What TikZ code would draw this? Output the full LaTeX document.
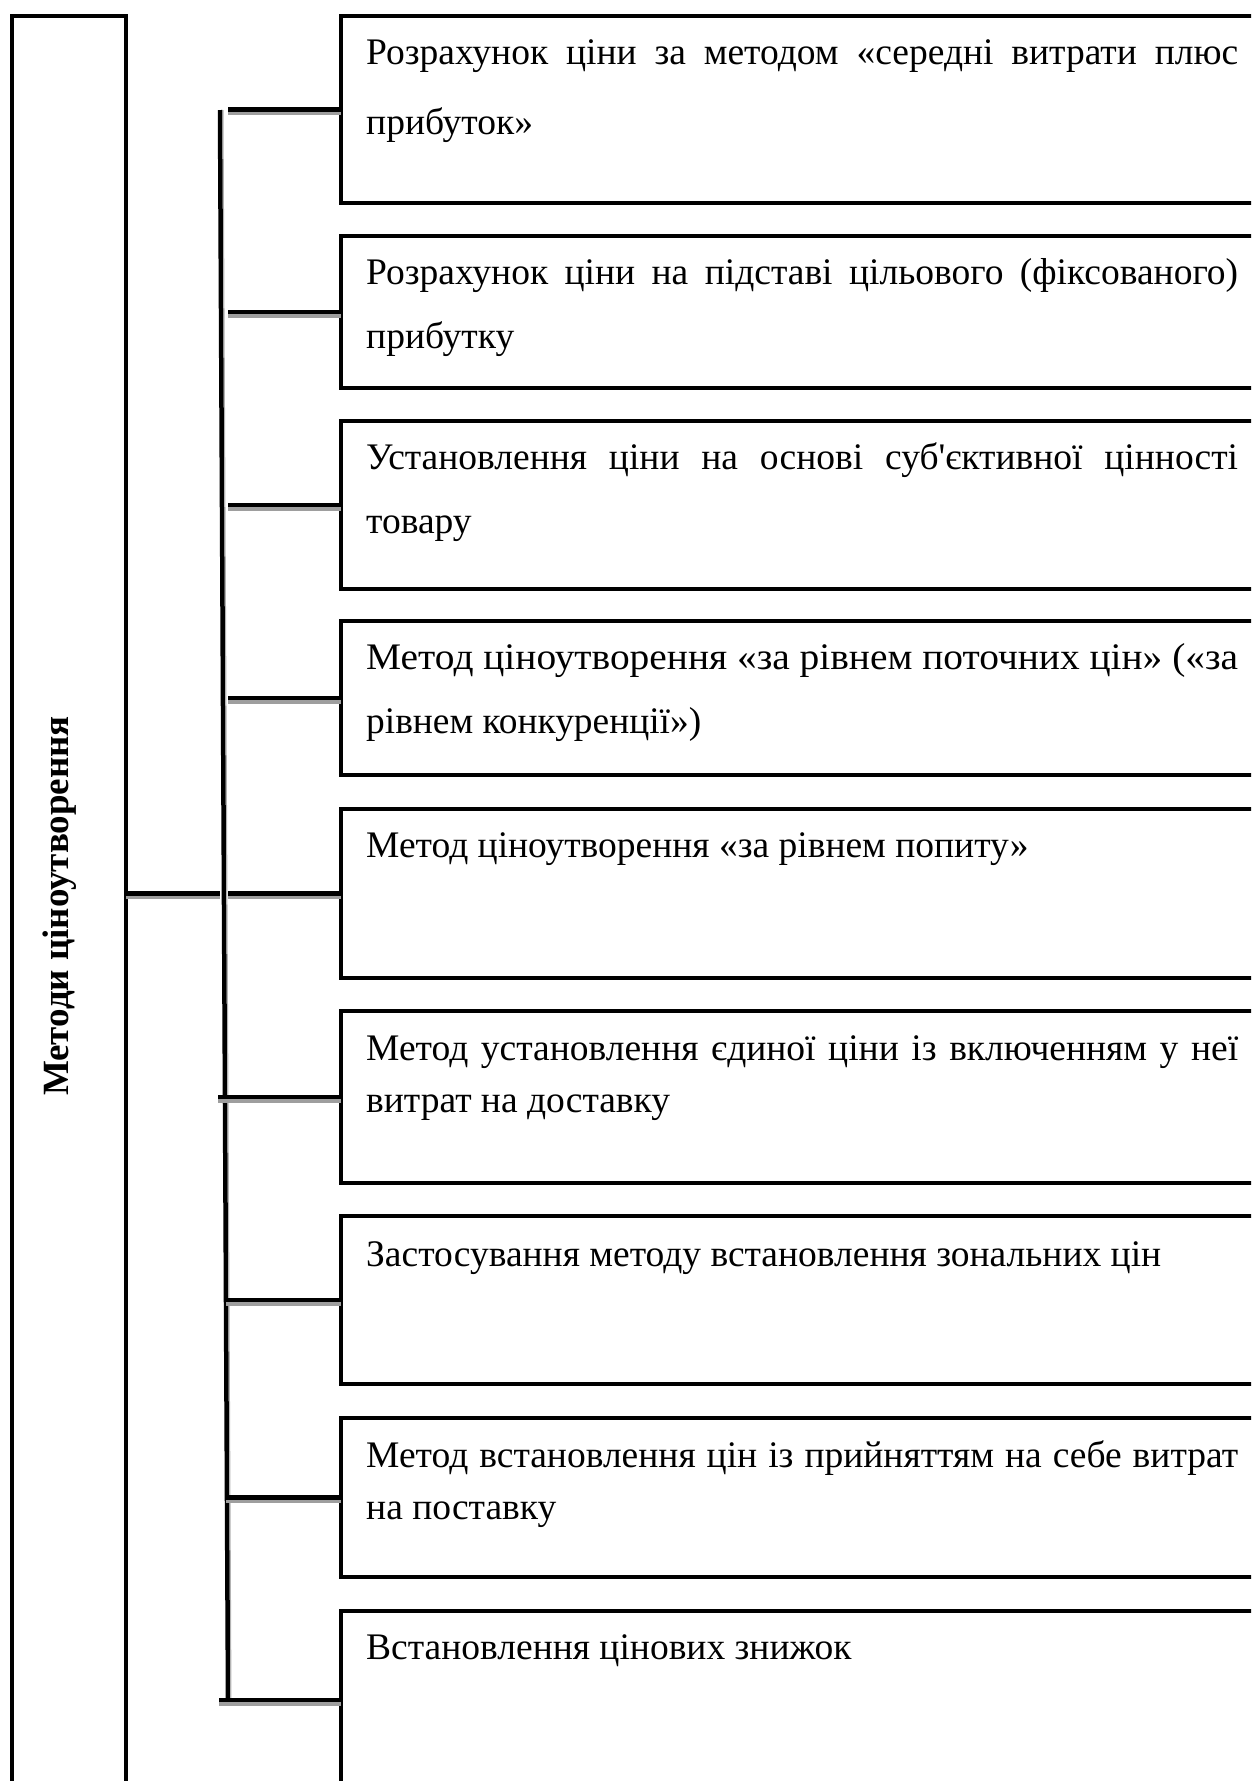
\documentclass[tikz,border=0pt]{standalone}
\usepackage{fontspec}
\usepackage{graphicx}
\setmainfont{Liberation Serif}
\newcommand{\straightapos}{{\XeTeXglyph\XeTeXcharglyph"0027\relax}}
\begin{document}
\begin{tikzpicture}[x=1pt,y=-1pt,
  blk/.style={line width=4.5pt, black},
  shd/.style={line width=3.5pt, color=black!38},
  framebox/.style={draw, line width=4.5pt, rectangle, inner sep=0pt, outer sep=0pt, anchor=north west},
  itembox/.style={framebox, minimum width=960pt},
  itemtext/.style={anchor=base west, inner sep=0pt, font=\fontsize{37.5}{63}\selectfont},
]
\useasboundingbox (0,0) rectangle (1251,1781);
\clip (0,0) rectangle (1251,1781);

% left main box
\node[framebox, minimum width=114pt, minimum height=1820pt] (main) at (12,16) {};
\node[rotate=90, inner sep=0pt, font=\bfseries\fontsize{37}{44}\selectfont] (title) at (60,906) {Методи ціноутворення};

% item boxes
\node[itembox, minimum height=187pt] (b1) at (341,16) {};
\node[itembox, minimum height=152pt] (b2) at (341,236) {};
\node[itembox, minimum height=168pt] (b3) at (341,421) {};
\node[itembox, minimum height=154pt] (b4) at (341,621) {};
\node[itembox, minimum height=169pt] (b5) at (341,809) {};
\node[itembox, minimum height=172pt] (b6) at (341,1011) {};
\node[itembox, minimum height=168pt] (b7) at (341,1216) {};
\node[itembox, minimum height=159pt] (b8) at (341,1418) {};
\node[itembox, minimum height=178pt] (b9) at (341,1611) {};

% texts
\node[itemtext] (t1a) at ([xshift=25pt,yshift=-48pt]b1.north west) {\makebox[872pt][s]{Розрахунок ціни за методом «середні витрати плюс}};
\node[itemtext] (t1b) at ([xshift=25pt,yshift=-118pt]b1.north west) {прибуток»};
\node[itemtext] (t2a) at ([xshift=25pt,yshift=-48pt]b2.north west) {\makebox[872pt][s]{Розрахунок ціни на підставі цільового (фіксованого)}};
\node[itemtext] (t2b) at ([xshift=25pt,yshift=-112pt]b2.north west) {прибутку};
\node[itemtext] (t3a) at ([xshift=25pt,yshift=-48pt]b3.north west) {\makebox[872pt][s]{Установлення ціни на основі суб\straightapos єктивної цінності}};
\node[itemtext] (t3b) at ([xshift=25pt,yshift=-112pt]b3.north west) {товару};
\node[itemtext] (t4a) at ([xshift=25pt,yshift=-48pt]b4.north west) {\resizebox{872pt}{\height}{Метод ціноутворення «за рівнем поточних цін» («за}};
\node[itemtext] (t4b) at ([xshift=25pt,yshift=-112pt]b4.north west) {\resizebox{335pt}{\height}{рівнем конкуренції»)}};
\node[itemtext] (t5a) at ([xshift=25pt,yshift=-48pt]b5.north west) {Метод ціноутворення «за рівнем попиту»};
\node[itemtext] (t6a) at ([xshift=25pt,yshift=-49pt]b6.north west) {\makebox[872pt][s]{Метод установлення єдиної ціни із включенням у неї}};
\node[itemtext] (t6b) at ([xshift=25pt,yshift=-101pt]b6.north west) {витрат на доставку};
\node[itemtext] (t7a) at ([xshift=25pt,yshift=-50pt]b7.north west) {Застосування методу встановлення зональних цін};
\node[itemtext] (t8a) at ([xshift=25pt,yshift=-49pt]b8.north west) {\makebox[872pt][s]{Метод встановлення цін із прийняттям на себе витрат}};
\node[itemtext] (t8b) at ([xshift=25pt,yshift=-101pt]b8.north west) {на поставку};
\node[itemtext] (t9a) at ([xshift=25pt,yshift=-48pt]b9.north west) {Встановлення цінових знижок};

% trunk
\coordinate (ttop) at (220,110);
\coordinate (tbot) at (228,1700);
\draw[line width=1pt, black!30] ([xshift=3pt]ttop) -- ([xshift=3pt]tbot);
\draw[blk] (ttop) -- (tbot);

% connector starting points
\coordinate (s1) at (228,0);
\coordinate (s2) at (228,0);
\coordinate (s3) at (228,0);
\coordinate (s4) at (228,0);
\coordinate (s5) at (228,0);
\coordinate (s6) at (218,0);
\coordinate (s7) at (226,0);
\coordinate (s8) at (226,0);
\coordinate (s9) at (219,0);
\coordinate (m5) at (220,0);

\foreach \i in {1,...,9}{
  \draw[shd, transform canvas={yshift=-4pt}] (s\i |- b\i.west) -- (b\i.west);
  \draw[blk] (s\i |- b\i.west) -- (b\i.west);
}
% main connector to trunk
\draw[shd, transform canvas={yshift=-4pt}] (main.east |- b5.west) -- (m5 |- b5.west);
\draw[blk] (main.east |- b5.west) -- (m5 |- b5.west);
\end{tikzpicture}
\end{document}
